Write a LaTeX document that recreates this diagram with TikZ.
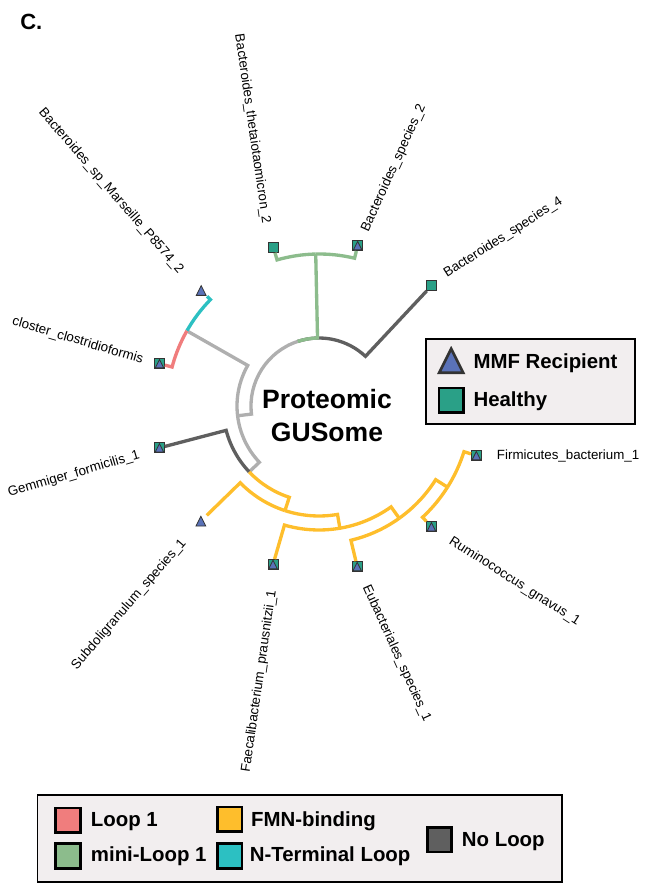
\documentclass[tikz,border=0pt]{standalone}
\usepackage{fontspec}
\setmainfont{Liberation Sans}
\usepackage{tikz}
\usetikzlibrary{positioning}
\usepackage{xcolor}
\definecolor{healthycol}{RGB}{42,160,135}
\definecolor{mmfcol}{RGB}{90,114,184}
\definecolor{loopone}{RGB}{240,125,125}
\definecolor{miniloop}{RGB}{140,188,140}
\definecolor{fmnbind}{RGB}{254,190,44}
\definecolor{ntermloop}{RGB}{44,192,194}
\definecolor{noloop}{RGB}{95,95,95}
\definecolor{innergray}{RGB}{175,175,175}
\definecolor{boxfill}{RGB}{242,238,239}
\tikzset{
  gus/.style={x=0.75pt,y=0.75pt},
  branch/.style={line width=2.5pt},
  tip/.style={rectangle,inner sep=0pt,minimum size=7.5pt},
  healthy/.style={tip,draw=black!80,fill=healthycol,line width=0.6pt},
  mmf/.style={tip,path picture={
    \draw[fill=mmfcol,draw=black!80,line width=#1]
      ([shift={(#1,#1)}]path picture bounding box.south west)
      -- ([shift={(-#1,#1)}]path picture bounding box.south east)
      -- ([yshift=-#1]path picture bounding box.north) -- cycle;}},
  mmf/.default=0.6pt,
  taxon/.style={font=\fontsize{10}{12}\selectfont,inner sep=0pt},
  hole/.style={font=\fontsize{19.9}{24}\selectfont\bfseries,inner sep=0pt,anchor=base},
  legtext/.style={font=\fontsize{15.3}{18}\selectfont\bfseries,inner sep=0pt,anchor=base west},
  swatch/.style={draw=black,line width=2pt,minimum size=18.4pt,inner sep=0pt},
}

\begin{document}
\begin{tikzpicture}[gus]
\useasboundingbox (0,0) rectangle (653,888);
\node[anchor=base west,inner sep=0pt,font=\fontsize{16.5}{18}\selectfont\bfseries] (panel) at (20,858) {C.};

% circular tree, centred on the hole
\begin{scope}[shift={(319,482)}]
\node[healthy] (bsp4) at (46.9:165) {};
\node[healthy,mmf] (bsp2) at (76.46:165) {};
\node[healthy] (btheta) at (106.02:165) {};
\node[mmf,minimum size=8.5pt] (bmars) at (135.58:165) {};
\node[healthy,mmf] (eclos) at (165.14:165) {};
\node[healthy,mmf] (gform) at (194.7:165) {};
\node[mmf,minimum size=8.5pt] (subdo) at (224.26:165) {};
\node[healthy,mmf] (fprau) at (253.82:165) {};
\node[healthy,mmf] (eubac) at (283.38:165) {};
\node[healthy,mmf] (rgnav) at (312.94:165) {};
\node[healthy,mmf] (firmi) at (342.5:165) {};
\coordinate (nbact) at (91.24:152);
\coordinate (nup) at (186.85:82);
\coordinate (nmars) at (150.36:152);
\coordinate (ngem) at (223.34:96);
\coordinate (nfirm) at (251.97:110);
\coordinate (nfae) at (279.69:124);
\coordinate (neub) at (305.55:138);
\coordinate (nrum) at (327.72:152);
\foreach \col/\r/\a/\b/\to in {
  noloop/68/108.33/46.9/bsp4, miniloop/68/108.33/91.24/nbact,
  miniloop/152/91.24/76.46/bsp2, miniloop/152/91.24/106.02/btheta,
  innergray/68/108.33/186.85/nup, innergray/82/186.85/150.36/nmars,
  ntermloop/152/150.36/135.58/bmars, loopone/152/150.36/165.14/eclos,
  innergray/82/186.85/223.34/ngem, noloop/96/223.34/194.7/gform,
  fmnbind/96/223.34/251.97/nfirm, fmnbind/110/251.97/224.26/subdo,
  fmnbind/110/251.97/279.69/nfae, fmnbind/124/279.69/253.82/fprau,
  fmnbind/124/279.69/305.55/neub, fmnbind/138/305.55/283.38/eubac,
  fmnbind/138/305.55/327.72/nrum, fmnbind/152/327.72/312.94/rgnav,
  fmnbind/152/327.72/342.5/firmi}
  \draw[branch,draw=\col] (\a:\r) arc[start angle=\a,end angle=\b,radius=\r] -- (\to);
\end{scope}

\node[hole] (holetop) at (327,479) {Proteomic};
\node[hole] (holebot) at (327,446) {GUSome};

% tip labels
\node[taxon,anchor=west,rotate=32.7] (lbsp4) at (445,613) {Bacteroides\_species\_4};
\node[taxon,anchor=west,rotate=65.5] (lbsp2) at (365,657) {Bacteroides\_species\_2};
\node[taxon,anchor=east,rotate=-81.8] (lbtheta) at (266,664) {Bacteroides\_thetaiotaomicron\_2};
\node[taxon,anchor=east,rotate=-49.1] (lbmars) at (181,616) {Bacteroides\_sp\_Marseille\_P8574\_2};
\node[taxon,anchor=east,rotate=-16.4] (leclos) at (143,528) {closter\_clostridioformis};
\node[taxon,anchor=east,rotate=16.4] (lgform) at (139.5,433) {Gemmiger\_formicilis\_1};
\node[taxon,anchor=east,rotate=49.1] (lsubdo) at (184,347) {Subdoligranulum\_species\_1};
\node[taxon,anchor=east,rotate=81.8] (lfprau) at (272.5,298) {Faecalibacterium\_prausnitzii\_1};
\node[taxon,anchor=west,rotate=-65.5] (leubac) at (365.7,302.3) {Eubacteriales\_species\_1};
\node[taxon,anchor=west,rotate=-32.7] (lrgnav) at (450,348) {Ruminococcus\_gnavus\_1};
\node[taxon,anchor=west] (lfirmi) at (496.7,432) {Firmicutes\_bacterium\_1};

% group legend
\draw[fill=boxfill,line width=1.3pt] (426,548.7) rectangle (635,463.7);
\node[mmf=2pt,minimum width=22pt,minimum height=22pt] (keymmf) at (451.2,527.2) {};
\node[swatch,fill=healthycol] (keyhealthy) at (451.2,487.7) {};
\node[legtext] (tmmf) at (473.3,519.7) {MMF Recipient};
\node[legtext] (thealthy) at (473.3,481.3) {Healthy};

% loop legend
\draw[fill=boxfill,line width=1.3pt] (37.4,93) rectangle (562,6.3);
\node[swatch,fill=loopone] (keyloop) at (68,67.7) {};
\node[swatch,fill=miniloop] (keymini) at (68,31.9) {};
\node[swatch,fill=fmnbind] (keyfmn) at (229.8,68.7) {};
\node[swatch,fill=ntermloop] (keynterm) at (229.8,32) {};
\node[swatch,fill=noloop] (keynone) at (439.5,48.3) {};
\node[legtext] (tloop) at (90.7,61.5) {Loop 1};
\node[legtext] (tmini) at (90.7,26.3) {mini-Loop 1};
\node[legtext] (tfmn) at (250.8,61.3) {FMN-binding};
\node[legtext] (tnterm) at (249.6,26.3) {N-Terminal Loop};
\node[legtext] (tnone) at (461.7,41.3) {No Loop};
\end{tikzpicture}
\end{document}
